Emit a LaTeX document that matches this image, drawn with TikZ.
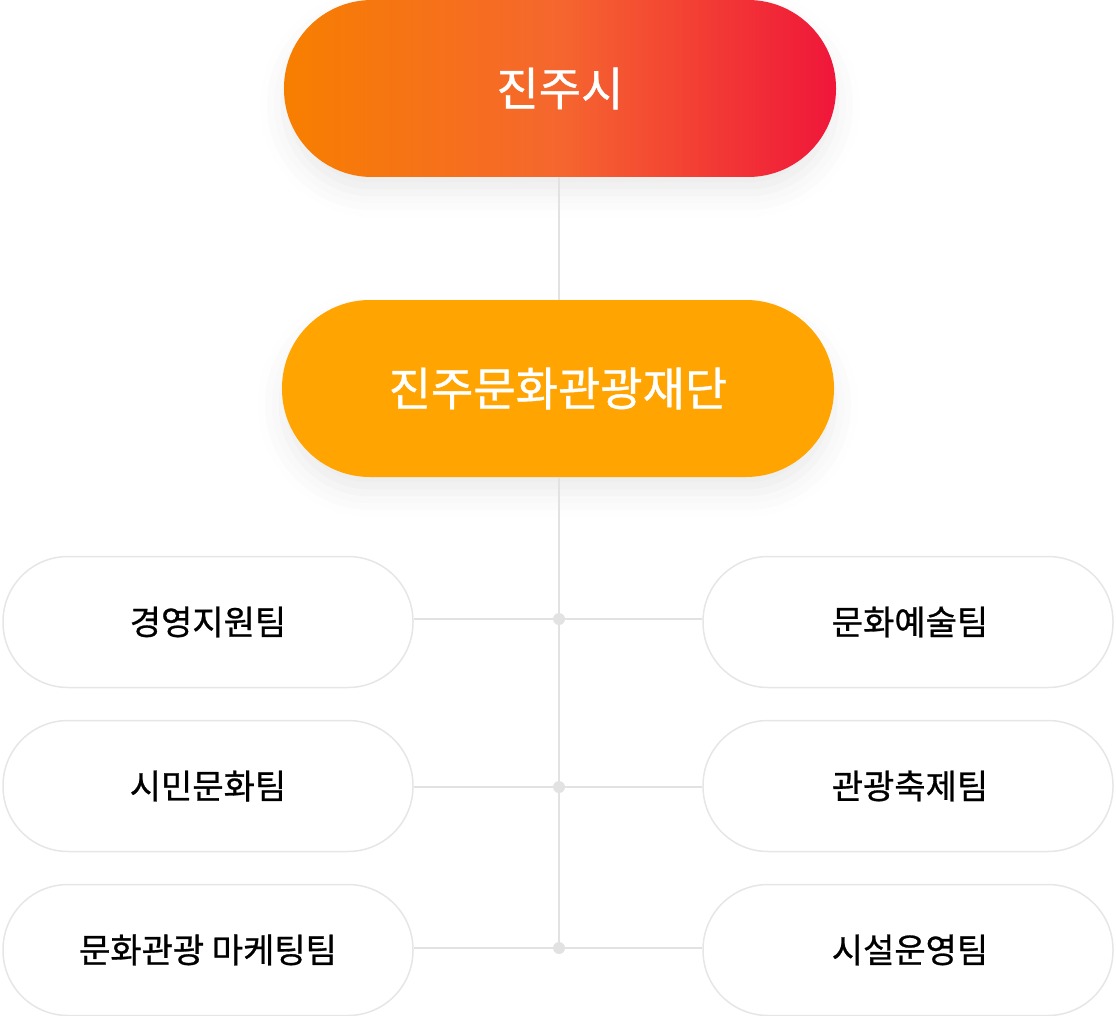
\documentclass[tikz,border=0pt]{standalone}
\usepackage{fontspec}
\newfontfamily\kr{Noto Sans CJK KR}
\newfontfamily\krm[FakeBold=0.8]{Noto Sans CJK KR}
\usetikzlibrary{shadows.blur}
\definecolor{lineg}{HTML}{E2E2E2}
\definecolor{pillb}{HTML}{E6E6E6}
\definecolor{orA}{HTML}{F77F00}
\definecolor{orB}{HTML}{F0163A}
\definecolor{yel}{HTML}{FFA400}
\begin{document}
\begin{tikzpicture}[x=1pt,y=-1pt,
  big/.style={minimum width=552pt,minimum height=177pt,rounded corners=88pt,text=white,font=\krm\fontsize{46}{50}\selectfont,inner sep=0pt,
    blur shadow={shadow xshift=0pt,shadow yshift=-16pt,shadow blur radius=24pt,shadow opacity=8}},
  small/.style={draw=pillb,line width=1.5pt,fill=white,minimum width=410pt,minimum height=131pt,rounded corners=65pt,inner sep=0pt,font=\krm\fontsize{34}{38}\selectfont},
  conn/.style={draw=lineg,line width=1.5pt},
  dot/.style={circle,fill=lineg,inner sep=0pt,minimum size=12pt}]
\useasboundingbox (0,0) rectangle (1116,1016);
\node[big,left color=orA,right color=orB,middle color=orA!60!orB!90!white] (city) at (560,88.5) {진주시};
\node[big,fill=yel] (fund) at (558,388.5) {진주문화관광재단};
\node[small] (l1) at (208,622) {경영지원팀};
\node[small] (l2) at (208,786) {시민문화팀};
\node[small] (l3) at (208,950) {문화관광 마케팅팀};
\node[small] (r1) at (908,622) {\hspace*{4pt}문화예술팀};
\node[small] (r2) at (908,786) {\hspace*{4pt}관광축제팀};
\node[small] (r3) at (908,950) {\hspace*{4pt}시설운영팀};
\coordinate (j0) at (559,177);
\coordinate (j1) at (559,300);
\coordinate (j2) at (559,477);
\coordinate (d1) at (559,619);
\coordinate (d2) at (559,787);
\coordinate (d3) at (559,948);
\path[conn] (j0) -- (j1) (j2) -- (d1) -- (d2) -- (d3);
\path[conn] (l1.east |- d1) -- (r1.west |- d1);
\path[conn] (l2.east |- d2) -- (r2.west |- d2);
\path[conn] (l3.east |- d3) -- (r3.west |- d3);
\node[dot] (e1) at (d1) {};
\node[dot] (e2) at (d2) {};
\node[dot] (e3) at (d3) {};
\end{tikzpicture}
\end{document}
